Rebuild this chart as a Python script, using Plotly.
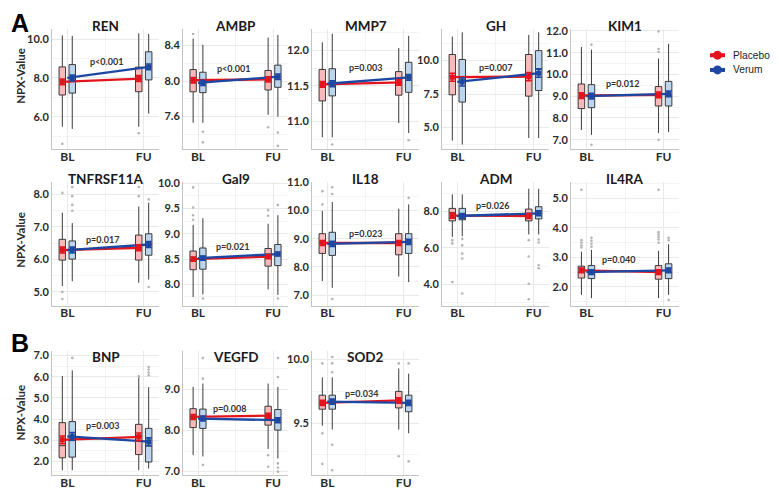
import plotly.graph_objects as go

# ---------------- data ----------------
panel_names = ["REN", "AMBP", "MMP7", "GH", "KIM1",
               "TNFRSF11A", "Gal9", "IL18", "ADM", "IL4RA",
               "BNP", "VEGFD", "SOD2"]
p_labels = ["p<0.001", "p<0.001", "p=0.003", "p=0.007", "p=0.012",
            "p=0.017", "p=0.021", "p=0.023", "p=0.026", "p=0.040",
            "p=0.003", "p=0.008", "p=0.034"]
time_labels = ["BL", "FU"]
group_names = ["Placebo", "Verum"]
y_ticks = [[6.0, 8.0, 10.0], [7.6, 8.0, 8.4], [11.0, 11.5, 12.0], [5.0, 7.5, 10.0],
           [7.0, 8.0, 9.0, 10.0, 11.0, 12.0],
           [5.0, 6.0, 7.0, 8.0], [8.0, 8.5, 9.0, 9.5, 10.0], [7.0, 8.0, 9.0, 10.0, 11.0],
           [4.0, 6.0, 8.0], [2.0, 3.0, 4.0, 5.0],
           [2.0, 3.0, 4.0, 5.0, 6.0, 7.0], [7.0, 8.0, 9.0], [9.5, 10.0]]

# Placebo, values per panel as [BL, FU]
pl_q1 = [[7.12, 7.29], [7.88, 7.90], [11.29, 11.37], [7.44, 7.34], [8.43, 8.55],
         [5.98, 5.98], [8.29, 8.36], [8.48, 8.43], [7.49, 7.49], [2.30, 2.26],
         [2.17, 2.32], [8.07, 8.13], [9.61, 9.62]]
pl_med = [[7.80, 7.95], [8.01, 8.01], [11.52, 11.55], [8.85, 8.85], [8.91, 8.95],
          [6.29, 6.36], [8.49, 8.55], [8.85, 8.85], [7.95, 7.80], [2.50, 2.50],
          [2.74, 3.21], [8.33, 8.36], [9.66, 9.68]]
pl_q3 = [[8.57, 8.56], [8.13, 8.12], [11.73, 11.70], [10.44, 10.44], [9.56, 9.44],
         [6.62, 6.75], [8.66, 8.71], [9.18, 9.18], [8.18, 8.14], [2.70, 2.72],
         [3.83, 3.75], [8.53, 8.59], [9.72, 9.75]]
pl_lo = [[5.48, 5.48], [7.53, 7.62], [10.78, 10.98], [4.03, 4.22], [7.45, 7.30],
         [5.18, 5.28], [7.75, 7.90], [7.50, 7.66], [6.61, 6.74], [1.73, 1.62],
         [1.58, 1.58], [7.40, 7.55], [9.48, 9.45]]
pl_hi = [[10.20, 10.30], [8.48, 8.49], [12.11, 12.03], [11.78, 11.90], [11.26, 10.73],
         [7.44, 7.63], [9.18, 9.20], [9.99, 10.07], [8.95, 9.26], [3.19, 3.22],
         [6.03, 6.07], [9.06, 9.14], [9.86, 9.93]]
pl_mean = [[7.80, 7.97], [8.01, 8.02], [11.52, 11.55], [8.75, 8.80], [9.03, 9.06],
           [6.29, 6.36], [8.50, 8.55], [8.85, 8.85], [7.78, 7.76], [2.56, 2.50],
           [3.02, 3.16], [8.33, 8.36], [9.66, 9.68]]
pl_sem = [0.15, 0.03, 0.04, 0.30, 0.13, 0.09, 0.04, 0.09, 0.14, 0.08, 0.18, 0.06, 0.02]
pl_out = [([4.60], [5.15]), ([8.53], [7.48]), ([], []), ([], []), ([], [11.97, 11.17, 11.03, 7.00]),
          ([8.05, 5.00, 4.78], [8.23, 7.95]), ([9.92, 9.52, 9.37, 9.28], [9.47, 9.36]),
          ([10.69, 10.22], []), ([6.43, 6.25, 4.12], [6.43, 5.53, 4.03, 3.17]),
          ([5.28, 3.58, 3.49, 3.40, 3.33], [5.28, 3.85, 3.77, 3.69, 3.60, 3.49]),
          ([], [6.00]), ([], [7.40, 7.12]), ([9.97, 9.42, 9.18], [9.97, 9.24])]

# Verum, values per panel as [BL, FU]
ve_q1 = [[7.22, 7.90], [7.87, 7.93], [11.36, 11.41], [6.90, 7.76], [8.47, 8.55],
         [6.01, 6.13], [8.30, 8.37], [8.41, 8.48], [7.55, 7.60], [2.28, 2.28],
         [2.20, 1.97], [8.05, 8.01], [9.61, 9.59]]
ve_med = [[8.00, 8.57], [7.98, 8.05], [11.53, 11.62], [8.56, 9.39], [8.91, 9.04],
          [6.29, 6.46], [8.52, 8.60], [8.82, 8.89], [7.82, 7.91], [2.50, 2.50],
          [2.98, 2.72], [8.29, 8.25], [9.67, 9.66]]
ve_q3 = [[8.69, 9.35], [8.10, 8.18], [11.74, 11.83], [10.07, 10.73], [9.53, 9.68],
         [6.57, 6.79], [8.72, 8.79], [9.23, 9.18], [8.18, 8.27], [2.72, 2.78],
         [3.88, 3.56], [8.52, 8.51], [9.72, 9.72]]
ve_lo = [[5.37, 6.16], [7.53, 7.60], [10.78, 10.84], [3.74, 4.22], [7.22, 7.35],
         [5.33, 5.38], [7.80, 7.79], [7.26, 7.46], [6.65, 6.74], [1.62, 1.73],
         [1.58, 1.66], [7.37, 7.32], [9.45, 9.42]]
ve_hi = [[10.17, 10.27], [8.41, 8.52], [12.23, 12.20], [12.09, 12.09], [11.14, 11.41],
         [7.12, 7.75], [9.31, 9.37], [10.30, 10.22], [8.95, 9.26], [3.25, 3.44],
         [6.30, 5.50], [9.14, 9.06], [9.86, 9.89]]
ve_mean = [[8.00, 8.57], [7.98, 8.05], [11.53, 11.62], [8.40, 9.05], [9.00, 9.11],
           [6.29, 6.46], [8.52, 8.60], [8.82, 8.89], [7.76, 7.91], [2.50, 2.56],
           [3.18, 2.93], [8.29, 8.25], [9.67, 9.66]]
ve_sem = [0.15, 0.03, 0.04, 0.30, 0.13, 0.09, 0.04, 0.09, 0.14, 0.08, 0.18, 0.06, 0.02]
ve_out = [([], []), ([7.43, 7.31], [7.42, 7.27]), ([10.68], [10.74]), ([], []), ([11.37, 6.77], []),
          ([8.23, 7.95, 7.68, 7.50], [7.85, 5.15]), ([7.72], [9.57, 7.72]),
          ([10.83, 10.59, 6.86], [10.45]), ([6.50, 6.14, 5.69, 5.42, 3.49], [6.47, 6.30, 5.06, 4.88]),
          ([3.66, 3.56, 3.46, 3.36], [3.66, 3.58, 1.56]),
          ([6.89], [6.46, 6.34, 6.20, 6.07]), ([9.76, 9.26, 7.16], [9.76, 9.30, 7.20, 7.10, 7.00]),
          ([10.02, 9.97, 9.90, 9.33, 9.13], [9.97, 9.20])]

# ---------------- layout constants ----------------
PAGE_OFF = 8                      # default page margin of the html body
W, H = 779 - PAGE_OFF, 495 - PAGE_OFF


def fx(px):
    return (px - PAGE_OFF) / W


def fy(py):
    return 1 - (py - PAGE_OFF) / H


y_ranges = [[4.31, 10.54], [7.23, 8.59], [10.61, 12.30], [3.37, 12.36], [6.55, 12.10],
            [4.58, 8.39], [7.58, 10.03], [6.63, 11.02], [2.83, 9.64], [1.37, 5.55],
            [1.34, 7.23], [6.91, 9.94], [9.09, 10.07]]
p_pos = [(0.51, 0.73), (0.48, 0.67), (0.50, 0.68), (0.50, 0.68), (0.48, 0.545),
         (0.47, 0.53), (0.47, 0.48), (0.50, 0.58), (0.47, 0.81), (0.44, 0.37),
         (0.47, 0.40), (0.44, 0.54), (0.46, 0.66)]
cols_px = [(52, 159), (183, 288), (312, 419), (442, 549), (571, 679)]
rows_px = [(22, 145), (178, 304), (350, 477)]
title_y_px = [19, 175, 356]
npx_y_px = [70, 237, 413]
legend_y_px = [49, 64]
legend_sym_px = (710, 725)
legend_text_px = 731
positions = [(0, 0), (0, 1), (0, 2), (0, 3), (0, 4),
             (1, 0), (1, 1), (1, 2), (1, 3), (1, 4),
             (2, 0), (2, 1), (2, 2)]

X_RANGE = [-0.2, 1.2]
OFF = 0.065
BOXW = 0.085
RED = "#e3141c"
BLUE = "#1c48a3"
PINK_FILL = "#f8b9bb"
LBLUE_FILL = "#bcd5ee"
FONT = "Lato, 'Open Sans', sans-serif"

fig = go.Figure()
layout = {}
annotations = []
shapes = []

groups = [
    dict(q1=pl_q1, med=pl_med, q3=pl_q3, lo=pl_lo, hi=pl_hi, mean=pl_mean, sem=pl_sem, out=pl_out,
         fill=PINK_FILL, col=RED, dx=-OFF, line_x=[-0.08, 0.97]),
    dict(q1=ve_q1, med=ve_med, q3=ve_q3, lo=ve_lo, hi=ve_hi, mean=ve_mean, sem=ve_sem, out=ve_out,
         fill=LBLUE_FILL, col=BLUE, dx=OFF, line_x=[0.0, 1.07]),
]

for i, name in enumerate(panel_names):
    r, c = positions[i]
    sfx = "" if i == 0 else str(i + 1)
    xa, ya = "x" + sfx, "y" + sfx
    x0, x1 = cols_px[c]
    y0, y1 = rows_px[r]

    for g, gname in zip(groups, group_names):
        xs = [0 + g["dx"], 1 + g["dx"]]
        fig.add_trace(go.Box(
            x=xs, q1=g["q1"][i], median=g["med"][i], q3=g["q3"][i],
            lowerfence=g["lo"][i], upperfence=g["hi"][i], name=gname,
            width=BOXW, fillcolor=g["fill"], line=dict(color="#3a3a3a", width=1),
            whiskerwidth=0, boxpoints=False, xaxis=xa, yaxis=ya,
            showlegend=False, hoverinfo="skip"))
    for g in groups:
        bl, fu = g["out"][i]
        ox = [0 + g["dx"]] * len(bl) + [1 + g["dx"]] * len(fu)
        oy = list(bl) + list(fu)
        if oy:
            fig.add_trace(go.Scatter(x=ox, y=oy, mode="markers",
                                     marker=dict(color="#b5b5b5", size=2.6),
                                     xaxis=xa, yaxis=ya, showlegend=False, hoverinfo="skip"))
    for g in groups:
        fig.add_trace(go.Scatter(x=g["line_x"], y=g["mean"][i], mode="lines",
                                 line=dict(color=g["col"], width=2.3),
                                 xaxis=xa, yaxis=ya, showlegend=False, hoverinfo="skip"))
    for g in groups:
        xs = [0 + g["dx"], 1 + g["dx"]]
        fig.add_trace(go.Scatter(
            x=xs, y=g["mean"][i], mode="markers",
            marker=dict(color=g["col"], size=5, symbol="square"),
            error_y=dict(type="data", array=[g["sem"][i]] * 2, color=g["col"], thickness=1.6, width=3),
            xaxis=xa, yaxis=ya, showlegend=False, hoverinfo="skip"))

    ticks = y_ticks[i]
    step = ticks[1] - ticks[0]
    minor_vals = [t + step / 2 for t in [ticks[0] - step] + ticks]
    layout["xaxis" + sfx] = dict(
        domain=[fx(x0), fx(x1)], range=X_RANGE, anchor=ya,
        tickmode="array", tickvals=[0, 1], ticktext=time_labels,
        showgrid=True, gridcolor="#e9e9e9", gridwidth=1,
        minor=dict(tickmode="array", tickvals=[0.5], showgrid=True, gridcolor="#f3f3f3"),
        showline=True, linecolor="#c4c4c4", linewidth=1, zeroline=False, ticks="",
        ticklabelstandoff=-4,
        tickfont=dict(family=FONT, size=12, color="#2b2b2b", weight="bold"), fixedrange=True)
    layout["yaxis" + sfx] = dict(
        domain=[fy(y1), fy(y0)], range=y_ranges[i], anchor=xa,
        tickmode="array", tickvals=ticks, tickformat=".1f",
        showgrid=True, gridcolor="#e9e9e9", gridwidth=1,
        minor=dict(tickmode="array", tickvals=minor_vals, showgrid=True, gridcolor="#f4f4f4"),
        showline=True, linecolor="#c4c4c4", linewidth=1, zeroline=False, ticks="",
        tickfont=dict(family=FONT, size=11, color="#2b2b2b", weight="bold"), fixedrange=True)

    annotations.append(dict(text=name, x=fx((x0 + x1) / 2), y=fy(title_y_px[r]),
                            xref="paper", yref="paper", showarrow=False,
                            xanchor="center", yanchor="middle",
                            font=dict(family=FONT, size=13.5, color="#1a1a1a", weight="bold")))
    annotations.append(dict(text=p_labels[i], x=p_pos[i][0], y=p_pos[i][1],
                            xref=xa + " domain", yref=ya + " domain", showarrow=False,
                            xanchor="center", yanchor="middle",
                            font=dict(family=FONT, size=9, color="#333333", weight="bold")))

for yc in npx_y_px:
    annotations.append(dict(text="NPX-Value", x=fx(21), y=fy(yc), xref="paper", yref="paper",
                            showarrow=False, textangle=-90, xanchor="center", yanchor="middle",
                            font=dict(family=FONT, size=11.5, color="#2b2b2b", weight="bold")))
annotations.append(dict(text="A", x=fx(9), y=fy(16), xref="paper", yref="paper", showarrow=False,
                        xanchor="left", yanchor="middle",
                        font=dict(family="Liberation Sans, Arial", size=25, color="#000", weight="bold")))
annotations.append(dict(text="B", x=fx(9), y=fy(342), xref="paper", yref="paper", showarrow=False,
                        xanchor="left", yanchor="middle",
                        font=dict(family="Liberation Sans, Arial", size=25, color="#000", weight="bold")))

# key: short thick line with a dot, then the group name
for k, (label, col) in enumerate(zip(group_names, [RED, BLUE])):
    yk = fy(legend_y_px[k])
    shapes.append(dict(type="line", xref="paper", yref="paper",
                       x0=fx(legend_sym_px[0]), x1=fx(legend_sym_px[1]), y0=yk, y1=yk,
                       line=dict(color=col, width=4)))
    cx = fx((legend_sym_px[0] + legend_sym_px[1]) / 2)
    rx, ry = 4.5 / W, 4.5 / H
    shapes.append(dict(type="circle", xref="paper", yref="paper",
                       x0=cx - rx, x1=cx + rx, y0=yk - ry, y1=yk + ry,
                       fillcolor=col, line=dict(color=col, width=0)))
    annotations.append(dict(text=label, x=fx(legend_text_px), y=yk, xref="paper", yref="paper",
                            showarrow=False, xanchor="left", yanchor="middle",
                            font=dict(family="Liberation Sans, Arial", size=10.2, color="#222")))

fig.update_layout(
    width=W, height=H, margin=dict(l=0, r=0, t=0, b=0),
    paper_bgcolor="white", plot_bgcolor="white",
    boxmode="overlay", showlegend=False,
    annotations=annotations, shapes=shapes,
    **layout)

fig.write_html("out.html")
